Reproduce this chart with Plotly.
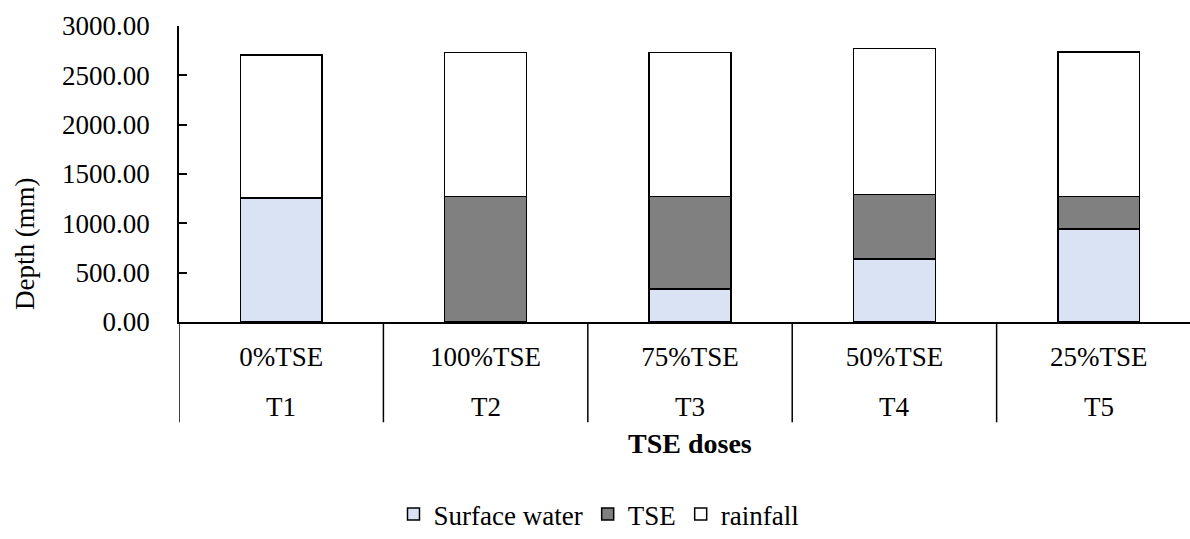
import plotly.graph_objects as go

# Water applied per treatment (mm), stacked by source
treatments = ["T1", "T2", "T3", "T4", "T5"]
doses = ["0%TSE", "100%TSE", "75%TSE", "50%TSE", "25%TSE"]
surface_water = [1256, 0, 332, 641, 944]
tse = [0, 1273, 941, 649, 329]
rainfall = [1448, 1457, 1457, 1480, 1464]

y_ticks = [0, 500, 1000, 1500, 2000, 2500, 3000]

FONT = "Liberation Serif"
FS = 27
TXT = dict(family=FONT, size=FS, color="black")

# plot-area geometry in pixels
L, T, W, H = 179, 26, 1011, 304

series = [
    ("Surface water", surface_water, "#DAE3F3"),
    ("TSE", tse, "#808080"),
    ("rainfall", rainfall, "#FFFFFF"),
]

fig = go.Figure()
for name, vals, color in series:
    fig.add_trace(go.Bar(
        x=doses,
        y=vals,
        name=name,
        marker=dict(color=color, line=dict(color="black", width=1.5)),
        width=0.4,
    ))


def py(pixel_y):
    """Convert a pixel row on the page to paper y."""
    return (T + H - pixel_y) / H


fig.update_layout(
    width=1190,
    height=539,
    barmode="stack",
    plot_bgcolor="white",
    paper_bgcolor="white",
    margin=dict(l=L, r=0, t=T, b=539 - T - H),
    font=TXT,
    showlegend=True,
    legend=dict(
        orientation="h",
        x=(599 - L) / W, xanchor="center",
        y=py(528), yanchor="middle",
        font=TXT,
        traceorder="normal",
    ),
)

fig.update_xaxes(
    type="category",
    range=[-0.5, 4.446],
    showline=True,
    linecolor="black",
    linewidth=1.5,
    ticks="",
    ticklabelstandoff=10,
    tickfont=TXT,
    showgrid=False,
)

fig.update_yaxes(
    range=[0, 3000],
    tickvals=y_ticks,
    tickformat=".2f",
    ticks="inside",
    ticklen=8,
    tickwidth=1.5,
    tickcolor="black",
    showline=True,
    linecolor="black",
    linewidth=1.5,
    showgrid=False,
    zeroline=False,
    ticklabelstandoff=22,
    tickfont=TXT,
)

# second row of category labels (treatment codes)
for i, t in enumerate(treatments):
    fig.add_annotation(
        text=t, xref="x", yref="paper", x=i, y=py(417),
        xanchor="center", yanchor="middle", showarrow=False, font=TXT,
    )

# dividers between category groups
for i in range(len(treatments) + 1):
    fig.add_shape(
        type="line", xref="x", yref="paper",
        x0=i - 0.5, x1=i - 0.5, y0=0, y1=py(433),
        line=dict(color="black", width=1.5),
    )

# axis titles
fig.add_annotation(
    text="<b>TSE doses</b>", xref="paper", yref="paper",
    x=2.5 * 204.4 / W, y=py(455),
    xanchor="center", yanchor="middle", showarrow=False,
    font=dict(family=FONT, size=28, color="black"),
)
fig.add_annotation(
    text="Depth (mm)", xref="paper", yref="paper",
    x=(25 - L) / W, y=py(250),
    xanchor="center", yanchor="middle", textangle=-90, showarrow=False, font=TXT,
)

fig.write_html("out.html")
